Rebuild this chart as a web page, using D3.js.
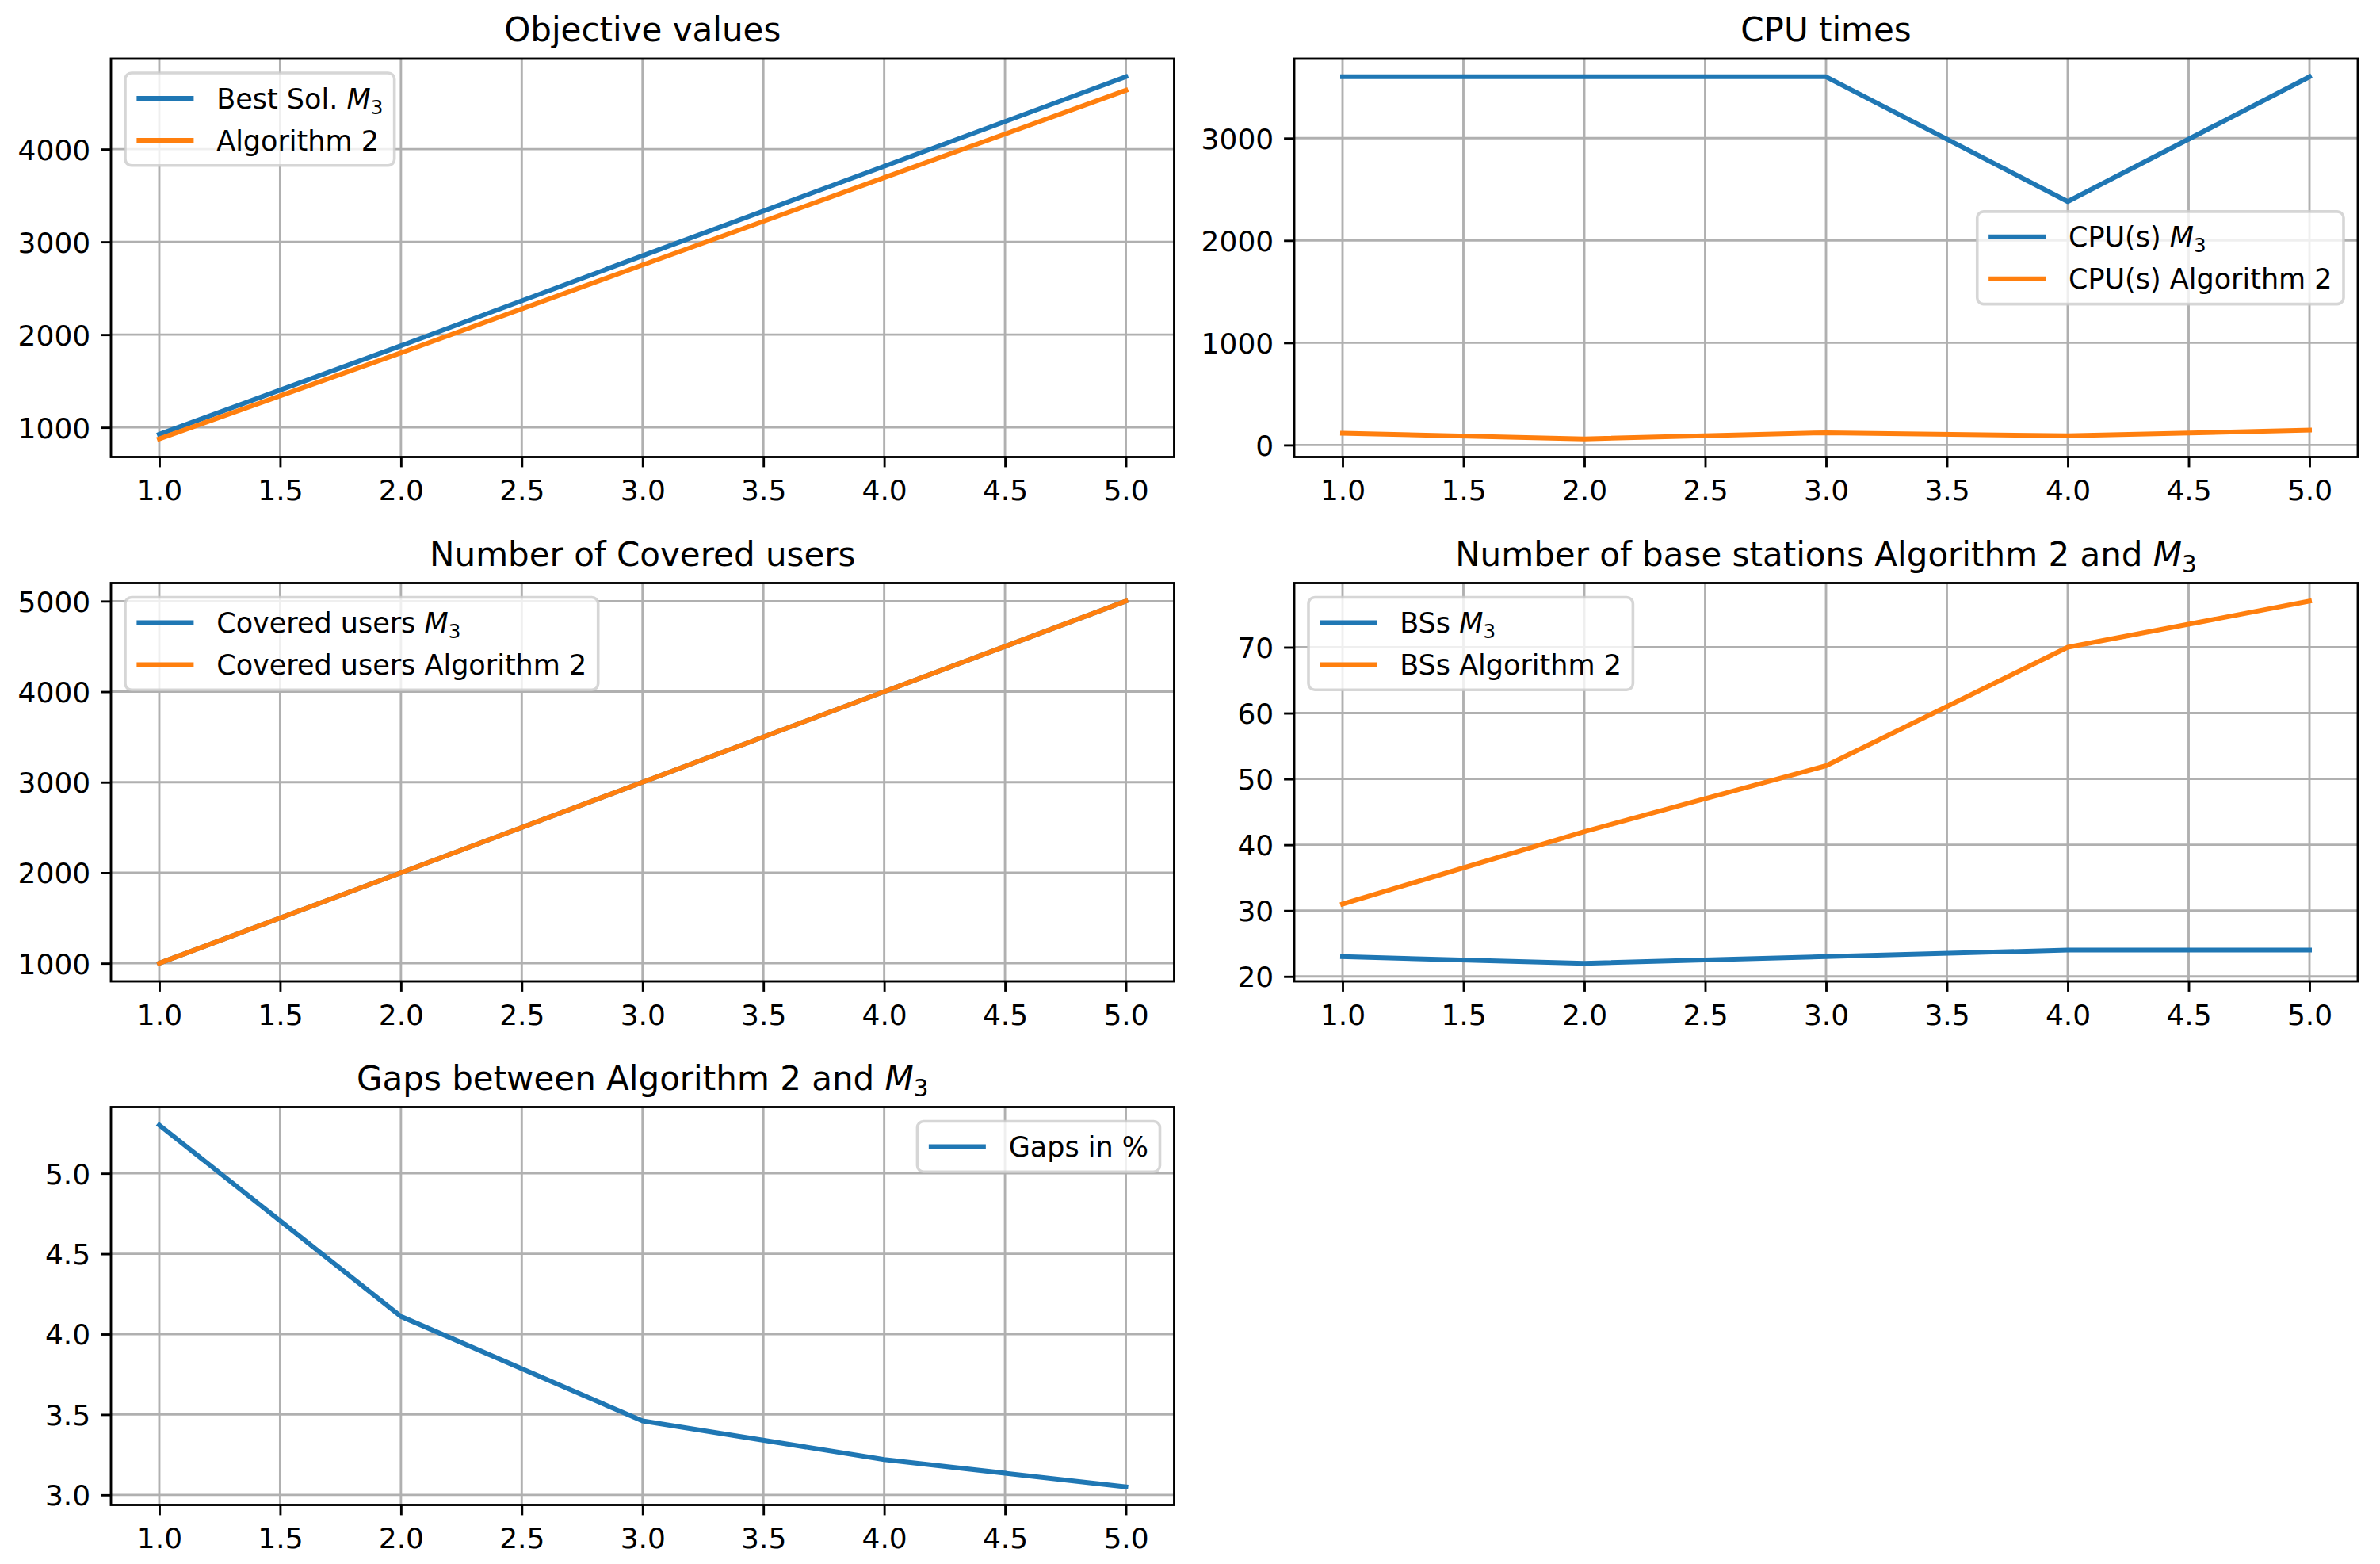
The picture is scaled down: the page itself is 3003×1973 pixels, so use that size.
<!DOCTYPE html>
<html>
<head>
<meta charset="utf-8">
<script src="https://cdn.jsdelivr.net/npm/d3@7"></script>
<style>
  body { margin: 0; background: #fff; }
  svg { display: block; font-family: "DejaVu Sans", sans-serif; }
</style>
</head>
<body>
<div id="chart"></div>
<script>
// data
const instances = [1, 2, 3, 4, 5];
const xTicks = [1.0, 1.5, 2.0, 2.5, 3.0, 3.5, 4.0, 4.5, 5.0];

const objBest = [925, 1880, 2850, 3815, 4780];
const objAlg2 = [876, 1803, 2751, 3692, 4634];

const cpuM3 = [3600, 3600, 3600, 2380, 3600];
const cpuAlg2 = [115, 60, 120, 90, 145];

const coveredM3 = [1000, 2000, 3000, 4000, 5000];
const coveredAlg2 = [1000, 2000, 3000, 4000, 5000];

const bsM3 = [23, 22, 23, 24, 24];
const bsAlg2 = [31, 42, 52, 70, 77];

const gaps = [5.30, 4.11, 3.46, 3.22, 3.05];

const yTicksObj = [1000, 2000, 3000, 4000];
const yTicksCpu = [0, 1000, 2000, 3000];
const yTicksCovered = [1000, 2000, 3000, 4000, 5000];
const yTicksBs = [20, 30, 40, 50, 60, 70];
const yTicksGaps = [3.0, 3.5, 4.0, 4.5, 5.0];

const blue = "#1f77b4", orange = "#ff7f0e";

// text pieces: plain, italic M, subscript 3
const M3 = [{ t: "M", it: true }, { t: "3", sub: true }];

const panels = [
  { row: 0, col: 0, title: [{ t: "Objective values" }], yTicks: yTicksObj, fmt: d3.format("d"), legend: "upper left",
    series: [{ label: [{ t: "Best Sol. " }, ...M3], values: objBest, color: blue },
             { label: [{ t: "Algorithm 2" }], values: objAlg2, color: orange }] },
  { row: 0, col: 1, title: [{ t: "CPU times" }], yTicks: yTicksCpu, fmt: d3.format("d"), legend: "center right",
    series: [{ label: [{ t: "CPU(s) " }, ...M3], values: cpuM3, color: blue },
             { label: [{ t: "CPU(s) Algorithm 2" }], values: cpuAlg2, color: orange }] },
  { row: 1, col: 0, title: [{ t: "Number of Covered users" }], yTicks: yTicksCovered, fmt: d3.format("d"), legend: "upper left",
    series: [{ label: [{ t: "Covered users " }, ...M3], values: coveredM3, color: blue },
             { label: [{ t: "Covered users Algorithm 2" }], values: coveredAlg2, color: orange }] },
  { row: 1, col: 1, title: [{ t: "Number of base stations Algorithm 2 and " }, ...M3], yTicks: yTicksBs, fmt: d3.format("d"), legend: "upper left",
    series: [{ label: [{ t: "BSs " }, ...M3], values: bsM3, color: blue },
             { label: [{ t: "BSs Algorithm 2" }], values: bsAlg2, color: orange }] },
  { row: 2, col: 0, title: [{ t: "Gaps between Algorithm 2 and " }, ...M3], yTicks: yTicksGaps, fmt: d3.format(".1f"), legend: "upper right",
    series: [{ label: [{ t: "Gaps in %" }], values: gaps, color: blue }] }
];

const W = 3003, H = 1973;
const cols = [{ left: 140, right: 1481.5 }, { left: 1633, right: 2975 }];
const rows = [{ top: 74, bottom: 576.5 }, { top: 735.5, bottom: 1238 }, { top: 1396.5, bottom: 1898.5 }];

const fs = 36;          // tick font, legend spacing unit
const legendFs = 35;
const titleFs = 42;
const lw = 6, thin = 2.88, tickLen = 12.9, tickPad = 12.9;

const svg = d3.select("#chart").append("svg").attr("width", W).attr("height", H);
svg.append("rect").attr("width", W).attr("height", H).attr("fill", "#fff");

function richText(sel, parts, size) {
  parts.forEach(p => {
    const ts = sel.append("tspan").text(p.t);
    if (p.it) ts.attr("font-style", "italic");
    if (p.sub) ts.attr("font-size", size * 0.7).attr("dy", size * 0.2);
  });
}

panels.forEach(p => {
  const c = cols[p.col], r = rows[p.row];
  const x = d3.scaleLinear().domain([0.8, 5.2]).range([c.left, c.right]);
  const all = p.series.flatMap(s => s.values);
  const [lo, hi] = d3.extent(all);
  const m = (hi - lo) * 0.05;
  const y = d3.scaleLinear().domain([lo - m, hi + m]).range([r.bottom, r.top]);

  const g = svg.append("g");

  // grid
  g.append("g").selectAll("line").data(xTicks).join("line")
    .attr("x1", d => x(d)).attr("x2", d => x(d)).attr("y1", r.top).attr("y2", r.bottom)
    .attr("stroke", "#b0b0b0").attr("stroke-width", thin);
  g.append("g").selectAll("line").data(p.yTicks).join("line")
    .attr("y1", d => y(d)).attr("y2", d => y(d)).attr("x1", c.left).attr("x2", c.right)
    .attr("stroke", "#b0b0b0").attr("stroke-width", thin);

  // lines
  const line = d3.line().x((d, i) => x(instances[i])).y(d => y(d));
  p.series.forEach(s => {
    g.append("path").datum(s.values).attr("d", line)
      .attr("fill", "none").attr("stroke", s.color).attr("stroke-width", lw)
      .attr("stroke-linecap", "square").attr("stroke-linejoin", "round");
  });

  // axes
  const xAxis = d3.axisBottom(x).tickValues(xTicks).tickFormat(d3.format(".1f"))
    .tickSize(tickLen).tickPadding(tickPad);
  const yAxis = d3.axisLeft(y).tickValues(p.yTicks).tickFormat(p.fmt)
    .tickSize(tickLen).tickPadding(tickPad);
  const gx = g.append("g").attr("transform", `translate(0,${r.bottom})`).call(xAxis);
  const gy = g.append("g").attr("transform", `translate(${c.left},0)`).call(yAxis);
  [gx, gy].forEach(a => {
    a.select(".domain").remove();
    a.selectAll(".tick line").attr("stroke", "#000").attr("stroke-width", thin);
    a.selectAll(".tick text").attr("font-size", fs).attr("fill", "#000")
      .attr("font-family", "DejaVu Sans");
  });
  gx.selectAll(".tick text").attr("dy", "0.8em");
  gy.selectAll(".tick text").attr("dy", "0.36em");

  // spines
  g.append("rect").attr("x", c.left).attr("y", r.top)
    .attr("width", c.right - c.left).attr("height", r.bottom - r.top)
    .attr("fill", "none").attr("stroke", "#000").attr("stroke-width", thin);

  // title
  const t = g.append("text").attr("x", (c.left + c.right) / 2).attr("y", r.top - 22)
    .attr("text-anchor", "middle").attr("font-size", titleFs).attr("fill", "#000");
  richText(t, p.title, titleFs);

  // legend
  const pad = 0.4 * fs, rowH = 35, spacing = 0.5 * fs, handleLen = 2 * fs, textPad = 0.8 * fs, axPad = 0.5 * fs;
  const lg = g.append("g");
  const frame = lg.append("rect").attr("rx", 8).attr("ry", 8)
    .attr("fill", "rgba(255,255,255,0.8)").attr("stroke", "rgba(204,204,204,0.8)").attr("stroke-width", 3.6);
  const texts = p.series.map((s, i) => {
    const cy = pad + rowH / 2 + i * (rowH + spacing);
    lg.append("line").attr("x1", pad).attr("x2", pad + handleLen).attr("y1", cy).attr("y2", cy)
      .attr("stroke", s.color).attr("stroke-width", lw);
    const tx = lg.append("text").attr("x", pad + handleLen + textPad).attr("y", cy + 0.36 * legendFs)
      .attr("font-size", legendFs).attr("fill", "#000");
    richText(tx, s.label, legendFs);
    return tx;
  });
  const maxW = d3.max(texts, tx => tx.node().getBBox().width);
  const lw2 = pad * 2 + handleLen + textPad + maxW;
  const lh = pad * 2 + p.series.length * rowH + (p.series.length - 1) * spacing;
  frame.attr("width", lw2).attr("height", lh);
  let lx, ly;
  if (p.legend === "upper left") { lx = c.left + axPad; ly = r.top + axPad; }
  else if (p.legend === "upper right") { lx = c.right - axPad - lw2; ly = r.top + axPad; }
  else { lx = c.right - axPad - lw2; ly = (r.top + r.bottom) / 2 - lh / 2; }
  lg.attr("transform", `translate(${lx},${ly})`);
});
</script>
</body>
</html>
